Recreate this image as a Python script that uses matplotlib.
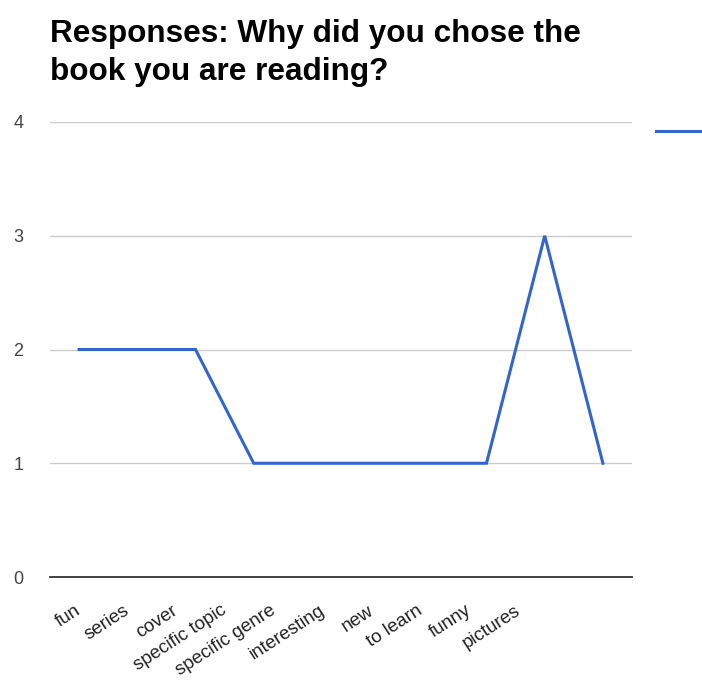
import matplotlib
matplotlib.use("Agg")
import matplotlib.pyplot as plt
from matplotlib.lines import Line2D
from matplotlib.transforms import ScaledTranslation

plt.rcParams["font.family"] = ["Liberation Sans", "DejaVu Sans"]

# data
reasons = ["fun", "series", "cover", "specific topic", "specific genre",
           "interesting", "new", "to learn", "funny", "pictures"]
responses = [2, 2, 2, 1, 1, 1, 1, 1, 3, 1]
y_ticks = [0, 1, 2, 3, 4]

W, H = 702, 687
fig = plt.figure(figsize=(W / 100, H / 100), dpi=100)
ax = fig.add_axes([50 / W, 1 - 577 / H, 582 / W, 455 / H])

ax.plot(range(len(reasons)), responses, color="#3366cc", lw=2.2,
        solid_joinstyle="miter", zorder=3)

ax.set_xlim(-0.5, len(reasons) - 0.5)
ax.set_ylim(0, 4)
ax.set_yticks(y_ticks)
ax.set_yticklabels([str(v) for v in y_ticks])
ax.yaxis.grid(True, color="#cccccc", lw=1)
ax.set_axisbelow(True)
for s in ["top", "right", "left"]:
    ax.spines[s].set_visible(False)
ax.spines["bottom"].set_color("#333333")
ax.spines["bottom"].set_linewidth(1.3)
ax.spines["bottom"].set_zorder(4)
ax.tick_params(axis="y", length=0, pad=19, labelsize=13, labelcolor="#444444")
ax.tick_params(axis="x", length=0, pad=18, labelsize=13.5, labelcolor="#222222")

ax.set_xticks(range(len(reasons)))
ax.set_xticklabels(reasons, rotation=33, ha="right", rotation_mode="anchor")
# google squeezes the slanted labels towards the left
for i, lab in enumerate(ax.get_xticklabels()):
    lab.set_transform(lab.get_transform()
                      + ScaledTranslation(-(5 + 9.3 * i) / 100, 0, fig.dpi_scale_trans))

fig.text(50 / W, 1 - 19 / H, "Responses: Why did you chose the\nbook you are reading?",
         fontsize=22.7, fontweight="bold", color="#000000", va="top", ha="left",
         linespacing=1.34)

handle = Line2D([], [], color="#3366cc", lw=2.2)
fig.legend([handle], [" "], loc="center left", bbox_to_anchor=(648 / W, 1 - 132 / H),
           frameon=False, handlelength=3.5, borderpad=0, handletextpad=0.4,
           fontsize=12)

fig.savefig("out.png", dpi=100, facecolor="white")
